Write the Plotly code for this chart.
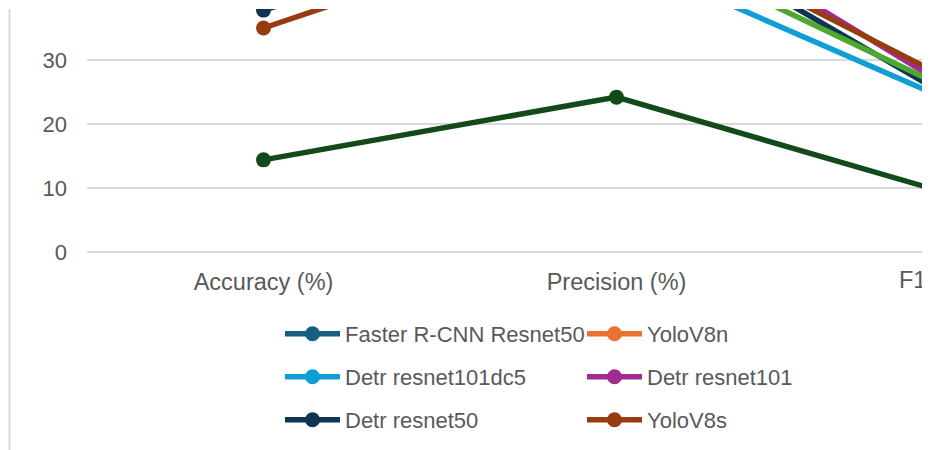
import plotly.graph_objects as go

categories = ["Accuracy (%)", "Precision (%)", "F1-Score (%)"]

series_names = [
    "Faster R-CNN Resnet50",
    "YoloV8n",
    "Detr resnet101dc5",
    "Detr resnet101",
    "Detr resnet50",
    "YoloV8s",
    "Model 7",
    "Model 8",
]

faster_rcnn_resnet50 = [58.0, 66.0, 62.0]
yolov8n = [45.0, 62.0, 58.0]
detr_resnet101dc5 = [41.0, 46.4, 22.3]
detr_resnet101 = [43.0, 57.4, 23.8]
detr_resnet50 = [37.8, 54.4, 22.4]
yolov8s = [35.0, 53.5, 25.4]
model_7 = [40.0, 50.2, 23.9]
model_8 = [14.4, 24.2, 8.2]

series_values = [
    faster_rcnn_resnet50, yolov8n, detr_resnet101dc5, detr_resnet101,
    detr_resnet50, yolov8s, model_7, model_8,
]
series_colors = [
    "#156082", "#E97132", "#0F9ED5", "#A02B93",
    "#0E3650", "#963C10", "#4EA72E", "#134A1A",
]
# legend row of each series (None = not listed in the visible legend)
legend_rows = ["legend", "legend", "legend2", "legend2", "legend3", "legend3", None, None]

y_ticks = [0, 10, 20, 30]

FONT = "Liberation Sans, Arial, sans-serif"
GREY = "#595959"

fig = go.Figure()
for name, vals, col, row in zip(series_names, series_values, series_colors, legend_rows):
    fig.add_trace(go.Scatter(
        x=list(range(len(categories))), y=vals, name=name,
        mode="lines+markers",
        line=dict(color=col, width=5.5),
        marker=dict(color=col, size=15),
        showlegend=row is not None,
        legend=row if row is not None else "legend",
    ))

# the page body adds an 8 px margin, so the figure is 8 px smaller each way
W, H = 922, 442
ML, MR, MT, MB = 79, 5, 1, 198
PW, PH = W - ML - MR, H - MT - MB
x_min, x_max = -0.5, 1.874


def legend_row(top_px):
    return dict(
        orientation="h", xref="container", yref="container",
        x=272 / W, xanchor="left", y=1 - top_px / H, yanchor="top",
        entrywidth=232, entrywidthmode="pixels", itemwidth=55,
        font=dict(family=FONT, size=22, color=GREY),
        bgcolor="rgba(0,0,0,0)",
    )


fig.update_layout(
    width=W, height=H,
    margin=dict(l=ML, r=MR, t=MT, b=MB, autoexpand=False),
    paper_bgcolor="white", plot_bgcolor="white",
    font=dict(family=FONT, size=22, color=GREY),
    xaxis=dict(
        range=[x_min, x_max],
        tickmode="array",
        tickvals=list(range(len(categories))),
        ticktext=categories,
        tickfont=dict(size=23.5),
        showgrid=False, zeroline=False, showline=False,
        ticks="", ticklabelstandoff=13,
    ),
    yaxis=dict(
        range=[0, 37.97],
        tickmode="array", tickvals=y_ticks,
        showgrid=True, gridcolor="#D9D9D9", gridwidth=2,
        zeroline=True, zerolinecolor="#D9D9D9", zerolinewidth=2,
        showline=False, ticks="", ticklabelstandoff=19,
    ),
    legend=legend_row(305),
    legend2=legend_row(348),
    legend3=legend_row(391),
    showlegend=True,
)

# label of the third category (its position lies beyond the visible crop)
third_idx = 2
fig.add_annotation(
    xref="paper", yref="paper",
    x=(third_idx - x_min) / (x_max - x_min), y=0,
    yshift=-13, yanchor="top", xanchor="center",
    text=categories[third_idx], showarrow=False,
    font=dict(family=FONT, size=23.5, color=GREY),
)

# chart-area left border
fig.add_shape(
    type="line", xref="paper", yref="paper",
    x0=(1.5 - ML) / PW, x1=(1.5 - ML) / PW, y0=1, y1=-MB / PH,
    line=dict(color="#D9D9D9", width=2),
)

fig.write_html("out.html")
